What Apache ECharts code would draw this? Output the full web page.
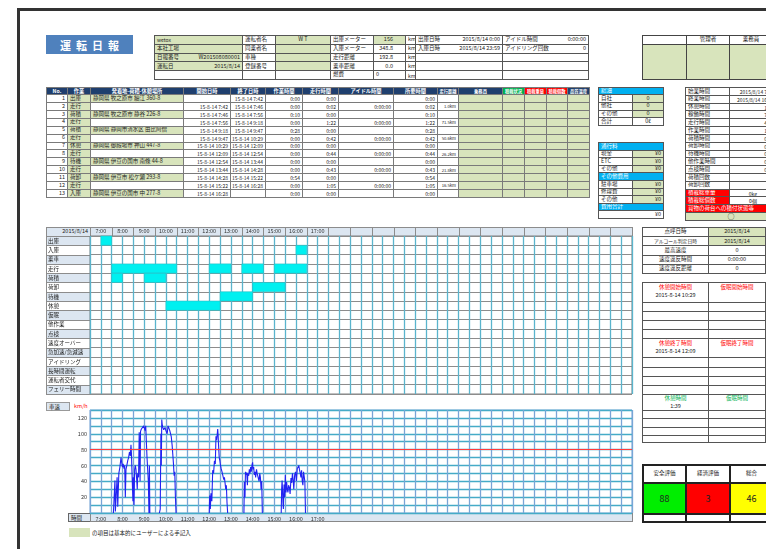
<!DOCTYPE html>
<html><head><meta charset="utf-8">
<script src="https://cdn.jsdelivr.net/npm/echarts@6/dist/echarts.min.js"></script>
<style>
html,body{margin:0;padding:0;background:#fff;}
#page{position:relative;width:766px;height:549px;overflow:hidden;font-family:'Noto Sans CJK JP','Noto Sans',sans-serif;color:#222;}
.c{position:absolute;box-sizing:border-box;display:flex;align-items:center;padding:0 2px;font-size:5.5px;line-height:1;white-space:nowrap;overflow:hidden;}
#chart{position:absolute;left:0;top:0;width:766px;height:549px;z-index:5;}
</style></head><body><div id="page"><div id="chart"></div></div>
<script>
// ---------------- DATA ----------------
const reportDate = '2015/8/14';
const hourLabels = ['7:00','8:00','9:00','10:00','11:00','12:00','13:00','14:00','15:00','16:00','17:00','','','','','','','','','','','','','',''];
const activityRows = ['出庫','入庫','乗車','走行','荷積','荷卸','待機','休憩','仮眠','他作業','点検','速度オーバー','急加速/急減速','アイドリング','長時間運転','運転者交代','フェリー時間'];
// timeline intervals [startHour, endHour]
const tlDepart = [[7.5, 8]];
const tlArrive = [[16.5, 17]];
const tlDrive  = [[8, 11], [12.5, 13.5], [14, 15], [15.5, 17]];
const tlLoad   = [[8, 8.5], [9.5, 10.5]];
const tlUnload = [[14.5, 16]];
const tlWait   = [[13, 14.5]];
const tlRest   = [[10.5, 13]];
// speed trace segments [hour, km/h]
const speedRun1 = [[8.08,0],[8.12,0],[8.15,41],[8.16,40],[8.17,2],[8.22,3],[8.25,45],[8.28,8],[8.33,50],[8.38,58],[8.43,70],[8.46,64],[8.5,58],[8.53,62],[8.57,56],[8.6,60],[8.63,20],[8.66,55],[8.7,60],[8.74,66],[8.78,70],[8.82,77],[8.86,72],[8.89,86],[8.91,76],[8.95,40],[8.98,15],[9.0,45],[9.03,10],[9.06,55],[9.09,60],[9.12,55],[9.15,44],[9.18,30],[9.2,50],[9.24,45],[9.27,102],[9.29,100],[9.31,40],[9.33,103],[9.37,106],[9.41,105],[9.45,108],[9.48,110],[9.51,112],[9.54,104],[9.57,110],[9.6,90],[9.63,70],[9.66,72],[9.69,40],[9.72,0],[9.74,60],[9.76,0]];
const speedRun2 = [[10.2,0],[10.24,5],[10.27,100],[10.29,60],[10.31,118],[10.33,112],[10.36,108],[10.4,105],[10.43,104],[10.46,108],[10.5,104],[10.53,106],[10.56,100],[10.6,110],[10.64,108],[10.68,104],[10.72,106],[10.75,96],[10.79,85],[10.82,86],[10.85,62],[10.88,47],[10.91,52],[10.94,20],[10.97,0]];
const speedRun3 = [[12.5,0],[12.52,22],[12.55,5],[12.58,25],[12.62,15],[12.66,54],[12.7,50],[12.74,66],[12.78,62],[12.81,97],[12.84,92],[12.87,100],[12.89,106],[12.91,98],[12.93,85],[12.96,70],[12.99,66],[13.02,60],[13.05,56],[13.09,52],[13.13,50],[13.17,42],[13.2,45],[13.23,38],[13.26,30],[13.29,35],[13.32,13],[13.35,0]];
const speedRun4 = [[14.1,0],[14.12,39],[14.15,20],[14.17,52],[14.2,48],[14.23,51],[14.26,35],[14.28,50],[14.32,47],[14.35,55],[14.38,50],[14.41,58],[14.44,52],[14.47,60],[14.5,64],[14.52,55],[14.55,58],[14.58,48],[14.61,52],[14.64,45],[14.68,55],[14.71,50],[14.74,48],[14.77,52],[14.8,40],[14.83,50],[14.86,45],[14.89,30],[14.92,40],[14.95,0]];
const speedRun5 = [[15.82,0],[15.84,30],[15.86,41],[15.88,30],[15.9,13],[15.92,5],[15.95,36],[15.98,20],[16.01,48],[16.04,26],[16.07,39],[16.1,30],[16.13,26],[16.16,35],[16.2,32],[16.23,24],[16.27,44],[16.3,38],[16.34,50],[16.37,42],[16.4,30],[16.44,48],[16.48,52],[16.52,40],[16.56,56],[16.6,58],[16.63,60],[16.66,55],[16.7,50],[16.73,45],[16.76,54],[16.79,40],[16.82,35],[16.85,52],[16.88,50],[16.91,40],[16.94,0]];
const speedLimit = 80;
const speedTicks = [20, 40, 60, 80, 100, 120];

// work table
const workHeader = ['No.','作業','発着地-荷積-休憩場所','開始日時','終了日時','作業時間','走行時間','アイドル時間','所要時間','走行距離','乗務員','積載状況','積載重量','積載個数','品質温度'];
const workType = ['出庫','走行','荷積','走行','荷積','走行','休憩','走行','待機','走行','荷卸','走行','入庫'];
const workPlace = ['静岡県 牧之原市 細江 360-8','','静岡県 牧之原市 静谷 226-8','','静岡県 静岡市清水区 由比阿僧','','静岡県 御殿場市 神山 447-8','','静岡県 伊豆の国市 南條 44-8','','静岡県 伊豆市 松ケ瀬 293-8','','静岡県 伊豆の国市 中 277-8'];
const workStart = ['','15-8-14 7:42','15-8-14 7:46','15-8-14 7:56','15-8-14 9:18','15-8-14 9:47','15-8-14 10:29','15-8-14 12:09','15-8-14 12:54','15-8-14 13:44','15-8-14 14:28','15-8-14 15:22','15-8-14 16:28'];
const workEnd = ['15-8-14 7:42','15-8-14 7:46','15-8-14 7:56','15-8-14 9:18','15-8-14 9:47','15-8-14 10:29','15-8-14 12:09','15-8-14 12:54','15-8-14 13:44','15-8-14 14:28','15-8-14 15:22','15-8-14 16:28',''];
const workTime = ['0:00','0:00','0:10','0:00','0:28','0:00','0:00','0:00','0:00','0:00','0:54','0:00','0:00'];
const runTime = ['0:00','0:02','0:00','1:22','0:00','0:42','0:00','0:44','0:00','0:43','0:00','1:05','0:00'];
const idleTime = ['','0:00:00','','0:00:00','','0:00:00','','0:00:00','','0:00:00','','0:00:00',''];
const needTime = ['0:00','0:02','0:10','1:22','0:28','0:42','0:00','0:44','0:00','0:43','0:54','1:05','0:00'];
const runDist = ['','1.0km','','71.5km','','50.6km','','26.2km','','21.8km','','16.5km',''];

const sumLabels = ['始業時間','終業時間','休憩時間','稼働時間','走行時間','作業時間','荷積時間','荷卸時間','待機時間','他作業時間','点検時間','荷積回数','荷卸回数'];
const sumValues = ['2015/8/14 7:42','2015/8/14 16:28','1:39','7:07','4:38','1:32','0:38','0:54','0:50','0:00','0:00','',''];
const fuelLabels = ['自社','他社','その他','合計'];
const fuelValues = ['0','0','0','0ℓ'];
const evalLabels = ['安全評価','経済評価','総合'];
const evalValues = ['88','3','46'];

// ---------------- LAYOUT HELPERS ----------------
const G = '#d8e4bc', BL = '#dce6f1', NAVY = '#1f3f6e', CY = '#00b0f0', RED = '#ff0000';
const page = document.getElementById('page');
function mk(x, y, w, h, css, html) {
  const d = document.createElement('div');
  d.style.cssText = `position:absolute;left:${x}px;top:${y}px;width:${w}px;height:${h}px;box-sizing:border-box;` + css;
  if (html != null) d.innerHTML = html;
  page.appendChild(d); return d;
}
function table(xs, ys, rows, opt = {}) {
  const bc = opt.border || '#6a6a6a', bw = opt.bw || 1;
  rows.forEach((row, j) => {
    let i = 0;
    row.forEach(cell => {
      if (cell == null) cell = {};
      if (typeof cell === 'string' || Array.isArray(cell)) cell = { t: cell };
      const span = cell.span || 1;
      const x0 = xs[i], x1 = xs[i + span], y0 = ys[j], y1 = ys[j + 1];
      const d = document.createElement('div');
      d.className = 'c';
      d.style.left = x0 + 'px'; d.style.top = y0 + 'px';
      d.style.width = (x1 - x0 + bw) + 'px'; d.style.height = (y1 - y0 + bw) + 'px';
      d.style.border = bw + 'px solid ' + bc;
      if (cell.bg || opt.bg) d.style.background = cell.bg || opt.bg;
      const a = cell.a || opt.a || 'l';
      d.style.justifyContent = a === 'r' ? 'flex-end' : a === 'c' ? 'center' : 'flex-start';
      if (cell.col || opt.col) d.style.color = cell.col || opt.col;
      if (cell.b || opt.b) d.style.fontWeight = 'bold';
      const fs = cell.fs || opt.fs; if (fs) d.style.fontSize = fs + 'px';
      if (cell.pr != null) d.style.paddingRight = cell.pr + 'px';
      if (Array.isArray(cell.t)) {
        d.style.justifyContent = 'space-between';
        d.innerHTML = `<span>${cell.t[0]}</span><span>${cell.t[1]}</span>`;
      } else if (cell.h !== undefined) {
        d.style.flexDirection = 'column'; d.style.justifyContent = 'center'; d.style.gap = '2.5px';
        d.innerHTML = `<span style="color:${cell.hc}">${cell.h}</span><span>${cell.v || '&nbsp;'}</span>`;
      } else d.textContent = cell.t || '';
      page.appendChild(d);
      i += span;
    });
  });
}

// page frame
mk(17, 8, 760, 3, 'background:#333;');
mk(17, 8, 3, 560, 'background:#333;');
// title
mk(46, 35, 87, 19, 'background:#4f81bd;color:#fff;font-weight:bold;font-size:11px;letter-spacing:5px;display:flex;align-items:center;justify-content:center;padding-left:5px;', '運転日報');

// info table
table([154,242,275,330,373,405,415,502,588], [35,43.8,52.6,61.4,70.2,79], [
  [{t:'wetox',bg:G,fs:5}, '運転者名', {t:'W T',a:'c',bg:G}, '出庫メーター', {t:'156',a:'r',bg:G,pr:12}, 'km', {t:['出庫日時','2015/8/14 0:00']}, {t:['アイドル時間','0:00:00']}],
  [{t:'本社工場',bg:G}, '同乗者名', {bg:G}, '入庫メーター', {t:'348.8',a:'r',pr:12}, 'km', {t:['入庫日時','2015/8/14 23:59']}, {t:['アイドリング回数','0']}],
  [{t:['日報番号','W201508080001'],bg:G}, '車種', {bg:G}, '走行距離', {t:'192.8',a:'r',pr:12}, 'km', '', ''],
  [{t:['運転日','2015/8/14'],bg:G}, '登録番号', {bg:G}, '乗車距離', {t:'0.0',a:'r',pr:12}, 'km', '', ''],
  ['', '', '', '燃費', {t:'0',a:'l'}, {t:'km/ℓ',fs:5}, '', '']
], {border:'#555'});

// approval
table([642,686,729,772], [35,44,79], [
  ['', {t:'管理者',a:'c'}, {t:'乗務員',a:'c'}],
  [{bg:G}, {bg:G}, {bg:G}]
], {border:'#444'});

// work table
const wx = [46,67,90,183,230,265,302,338,393,437,458,502,524,546,567,589];
const wy = [87, 94]; for (let k = 1; k <= workType.length; k++) wy.push(94 + k * 7.92);
const hdrBg = [NAVY,NAVY,NAVY,NAVY,NAVY,NAVY,NAVY,NAVY,NAVY,NAVY,NAVY,'#00b050',RED,RED,NAVY];
const wrows = [workHeader.map((h, i) => ({t:h, a:'c', bg:hdrBg[i], col:'#fff', b:true, fs: i >= 9 ? 4.3 : 5.2}))];
workType.forEach((w, k) => {
  wrows.push([
    {t:String(k+1),a:'r'}, {t:w,bg:G}, {t:workPlace[k],bg:workPlace[k]?G:null}, {t:workStart[k],a:'r',fs:5}, {t:workEnd[k],a:'r',fs:5},
    {t:workTime[k],a:'r',fs:5}, {t:runTime[k],a:'r',fs:5}, {t:idleTime[k],a:'r',fs:5}, {t:needTime[k],a:'r',fs:5}, {t:runDist[k],a:'r',fs:4.2},
    {bg:G},{bg:G},{bg:G},{bg:G},{bg:G}
  ]);
});
table(wx, wy, wrows, {border:'#7a7a7a'});

// fuel table
const fy = [87,94,101.75,109.5,117.25,125];
table([598,632,663], fy, [[{t:'給油',span:2,bg:CY,col:'#fff'}]].concat(fuelLabels.map((l,i)=>[l,{t:fuelValues[i],a:'c',bg:i<3?G:null}])), {border:'#555'});
// toll / cost table
const ty = []; for (let k = 0; k <= 10; k++) ty.push(142 + k * 7.6);
table([598,632,663], ty, [
  [{t:'通行料',span:2,bg:CY,col:'#fff'}],
  ['現金',{t:'¥0',a:'r',bg:G}], ['ETC',{t:'¥0',a:'r',bg:G}], ['その他',{t:'¥0',a:'r',bg:G}],
  [{t:'その他費用',span:2,bg:CY,col:'#fff'}],
  ['駐車場',{t:'¥0',a:'r',bg:G}], ['修理費',{t:'¥0',a:'r',bg:G}], ['その他',{t:'¥0',a:'r',bg:G}],
  [{t:'費用合計',span:2,bg:CY,col:'#fff'}],
  [{t:'¥0',span:2,a:'r'}]
], {border:'#555'});

// summary table
const sy = []; for (let k = 0; k <= 17; k++) sy.push(87 + k * 7.82);
table([685,729,776], sy, sumLabels.map((l,i)=>[l,{t:sumValues[i],a:'r',fs:5}]).concat([
  [{t:'積載総重量',bg:RED,col:'#fff'},{t:'0kg',a:'c',fs:5}],
  [{t:'積載総個数',bg:RED,col:'#fff'},{t:'0個',a:'c',fs:5}],
  [{t:'貨物の荷台への積付状態等',span:2,bg:RED,col:'#fff'}],
  [{t:'○',span:2,a:'c',bg:G,fs:7}]
]), {border:'#555'});

// roll call table
table([642,708,765], [227,236.2,245.4,254.6,263.8,273], [
  [{t:'点呼日時',a:'c'},{t:'2015/8/14',a:'c',bg:G}],
  [{t:'アルコール判定日時',a:'c',fs:4.8},{t:'2015/8/14',a:'c',bg:G}],
  [{t:'最高速度',a:'c'},{t:'0',a:'c'}],
  [{t:'速度違反時間',a:'c'},{t:'0:00:00',a:'c'}],
  [{t:'速度違反距離',a:'c'},{t:'0',a:'c'}]
], {border:'#555'});
// rest / nap table
const E = [{},{}];
table([642,708,765], [281.7,301.7,310.7,320,329.3,338.3,356.7,366.7,376,385,394,410,418.3,426.7,435,441.7], [
  [{h:'休憩開始時間',v:'2015-8-14 10:29',hc:RED},{h:'仮眠開始時間',v:'',hc:RED}], E,E,E,E,
  [{h:'休憩終了時間',v:'2015-8-14 12:09',hc:RED},{h:'仮眠終了時間',v:'',hc:RED}], E,E,E,E,
  [{h:'休憩時間',v:'1:39',hc:'#00b050'},{h:'仮眠時間',v:'',hc:'#00b050'}], E,E,E,E
], {border:'#555'});

// evaluation
table([642,685,729,772], [464,481.5,513,521], [
  evalLabels.map(l=>({t:l,a:'c'})),
  evalValues.map((v,i)=>({t:v,a:'c',bg:['#00ee00',RED,'#ffff00'][i],fs:9})),
  [{},{},{}]
], {border:'#222', bw:2});

// footer note
mk(69, 528, 21, 9, 'background:'+G+';');
mk(92, 528, 200, 9, 'font-size:5.5px;display:flex;align-items:center;white-space:nowrap;', 'の項目は基本的にユーザーによる手記入');

// ---------------- CHART FRAMES ----------------
const TL = {x:90, y:236, w:542, h:158};
const SP = {x:90, y:410, w:542, h:103};
const hourW = TL.w / hourLabels.length;
// timeline header band
const hx = [46, TL.x]; for (let k = 1; k <= hourLabels.length; k++) hx.push(TL.x + k * hourW);
table(hx, [227, TL.y], [[{t:reportDate,a:'r'}].concat(hourLabels.map(()=>({})))], {border:'#8c8c8c', bg:BL});
// timeline label column backgrounds
const rowH = TL.h / activityRows.length;
const ly = []; for (let k = 0; k <= activityRows.length; k++) ly.push(TL.y + k * rowH);
table([46, TL.x], ly, activityRows.map((r,i)=>[{bg: i % 2 === 0 ? BL : '#fff'}]), {border:'#8c8c8c'});
// speed chart boxes
mk(46, 402, 24, 9, 'background:'+BL+';border:1px solid #999;font-size:5.5px;display:flex;align-items:center;padding-left:2px;', '車速');
mk(74, 402, 20, 8, 'color:#ff0000;font-size:5.5px;display:flex;align-items:center;', 'km/h');
mk(68, SP.y+SP.h, 23, 9, 'background:'+BL+';border:1px solid #666;font-size:5.5px;display:flex;align-items:center;padding-left:2px;', '時間');
mk(SP.x, SP.y+SP.h, SP.w+1, 9, 'background:'+BL+';border:1px solid #888;');

// ---------------- ECHARTS ----------------
const tlCells = [];
[[0, tlDepart],[1, tlArrive],[3, tlDrive],[4, tlLoad],[5, tlUnload],[6, tlWait],[7, tlRest]].forEach(([r, list]) => {
  list.forEach(iv => tlCells.push([r, iv[0], iv[1]]));
});
const FONT = 'Noto Sans CJK JP';
const speedSeries = [speedRun1, speedRun2, speedRun3, speedRun4, speedRun5].map((seg, i) => ({
  type:'line', xAxisIndex:2, yAxisIndex:1, data:seg, showSymbol:false, silent:true, animation:false,
  lineStyle:{color:'#2222f2', width:1.1},
  markLine: i === 0 ? {silent:true, symbol:'none', label:{show:false}, lineStyle:{color:'#ff3b3b', width:1, type:'solid'}, data:[{yAxis:speedLimit}]} : undefined
}));
const chart = echarts.init(document.getElementById('chart'), null, {renderer:'canvas'});
chart.setOption({
  animation:false,
  textStyle:{fontFamily:FONT},
  grid:[
    {left:TL.x, top:TL.y, width:TL.w, height:TL.h, show:true, borderColor:'#808080', borderWidth:1},
    {left:SP.x, top:SP.y, width:SP.w, height:SP.h, show:true, borderColor:'#7aa7d6', borderWidth:1}
  ],
  xAxis:[
    {type:'value', gridIndex:0, min:7, max:32, interval:0.5, axisLabel:{show:false}, axisLine:{show:false}, axisTick:{show:false},
     splitLine:{show:true, lineStyle:{color:'#5ab4cc', width:1.3}}},
    {type:'category', gridIndex:0, position:'top', data:hourLabels, axisLine:{show:false}, axisTick:{show:false},
     axisLabel:{interval:0, fontSize:5.5, margin:2.5, color:'#333', fontFamily:FONT}},
    {type:'value', gridIndex:1, min:7, max:32, interval:0.5, axisLabel:{show:false}, axisLine:{show:false}, axisTick:{show:false},
     splitLine:{show:true, lineStyle:{color:'#78a5d6', width:1.3}}},
    {type:'category', gridIndex:1, position:'bottom', data:hourLabels, axisLine:{show:false}, axisTick:{show:false},
     axisLabel:{interval:0, fontSize:5.5, margin:3, color:'#333', fontFamily:FONT}}
  ],
  yAxis:[
    {type:'category', gridIndex:0, data:activityRows, inverse:true, axisLine:{show:false}, axisTick:{show:false},
     axisLabel:{interval:0, align:'left', margin:TL.x - 48, fontSize:5.5, color:'#222', fontFamily:FONT},
     splitLine:{show:true, interval:0, lineStyle:{color:'#8c8c8c', width:1}}},
    {type:'value', gridIndex:1, min:0, max:130, interval:10, axisLine:{show:false}, axisTick:{show:false},
     axisLabel:{fontSize:5.5, margin:3, color:'#333', fontFamily:FONT, formatter: v => speedTicks.includes(v) ? String(v) : ''},
     splitLine:{show:true, lineStyle:{color:'#45abc7', width:1.3}}}
  ],
  series:[
    {type:'custom', xAxisIndex:0, yAxisIndex:0, data:tlCells, silent:true, encode:{x:[1,2], y:0},
     renderItem:(params, api) => {
       const r = api.value(0), p0 = api.coord([api.value(1), r]), p1 = api.coord([api.value(2), r]);
       const h = api.size([0, 1])[1];
       return {type:'rect', shape:{x:p0[0], y:p0[1] - h/2, width:p1[0] - p0[0], height:h},
               style:{fill:'#00f0f0', stroke:'#2bbcc4', lineWidth:0.6}};
     }}
  ].concat(speedSeries)
});
</script></body></html>
